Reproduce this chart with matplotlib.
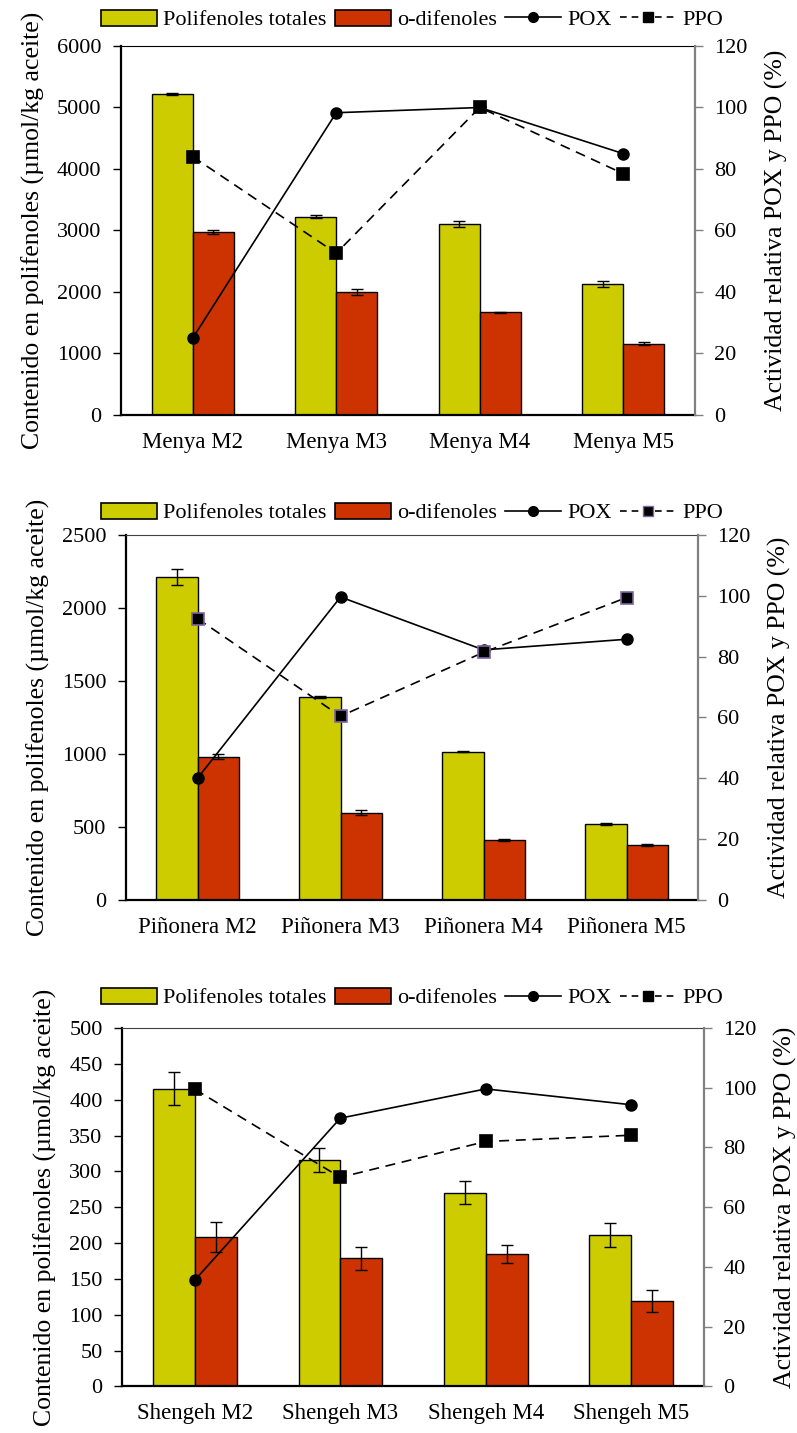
import matplotlib
matplotlib.use("Agg")
import matplotlib.pyplot as plt
import numpy as np
from matplotlib.lines import Line2D
from matplotlib.patches import Patch

plt.rcParams['font.family'] = ['Liberation Serif', 'DejaVu Serif']

# panel 1 - Menya
menya_labels = ["Menya M2", "Menya M3", "Menya M4", "Menya M5"]
menya_total = [5220, 3225, 3110, 2130]
menya_total_err = [10, 20, 50, 50]
menya_odif = [2975, 1995, 1670, 1160]
menya_odif_err = [30, 50, 10, 25]
menya_pox = [25, 98.3, 100, 85]
menya_ppo = [84, 52.6, 100, 78.5]

# panel 2 - Piñonera
pin_labels = ["Piñonera M2", "Piñonera M3", "Piñonera M4", "Piñonera M5"]
pin_total = [2210, 1390, 1015, 520]
pin_total_err = [55, 10, 5, 5]
pin_odif = [982, 598, 410, 377]
pin_odif_err = [16, 15, 4, 5]
pin_pox = [40, 99.6, 82.2, 85.7]
pin_ppo = [92.5, 60.4, 81.4, 99.4]

# panel 3 - Shengeh
sh_labels = ["Shengeh M2", "Shengeh M3", "Shengeh M4", "Shengeh M5"]
sh_total = [415, 316, 270, 211]
sh_total_err = [23, 17, 16, 17]
sh_odif = [208, 179, 185, 119]
sh_odif_err = [21, 16, 13, 15]
sh_pox = [35.6, 89.8, 99.6, 94.3]
sh_ppo = [99.5, 70, 82, 84.1]

YELLOW = "#CCCC00"
RED = "#CC3300"
GREY = "#808080"

fig = plt.figure(figsize=(7.97, 14.33), dpi=100)


def panel(rect, labels, total, total_err, odif, odif_err, pox, ppo,
          ymax, ystep, legend_y, ppo_edge="black", top_color="black"):
    ax = fig.add_axes(rect)
    x = np.arange(len(labels))
    w = 0.287
    ax.bar(x - w / 2, total, w, color=YELLOW, edgecolor="black", linewidth=1,
           yerr=total_err, capsize=4, error_kw=dict(elinewidth=1, capthick=1, ecolor="black"))
    ax.bar(x + w / 2, odif, w, color=RED, edgecolor="black", linewidth=1,
           yerr=odif_err, capsize=4, error_kw=dict(elinewidth=1, capthick=1, ecolor="black"))
    ax.set_xlim(-0.5, len(labels) - 0.5)
    ax.set_ylim(0, ymax)
    ax.set_yticks(np.arange(0, ymax + 1, ystep))
    ax.set_xticks(x)
    ax.set_xticklabels(labels, fontsize=16.5)
    ax.tick_params(axis="x", length=0, pad=12)
    ax.tick_params(axis="y", direction="out", length=6, width=1, labelsize=16, pad=8)
    ax.spines["left"].set_linewidth(1.6)
    ax.spines["bottom"].set_linewidth(1.6)
    ax.spines["right"].set_visible(False)
    ax.spines["top"].set_color(top_color)
    ax.set_ylabel("Contenido en polifenoles (µmol/kg aceite)", fontsize=18.5, labelpad=9)

    ax2 = ax.twinx()
    ax2.plot(x, pox, color="black", lw=1.2, marker="o", markersize=8)
    ax2.plot(x, ppo, color="black", lw=1.2, ls=(0, (6, 4)), marker="s", markersize=8,
             markerfacecolor="black", markeredgecolor=ppo_edge, markeredgewidth=1.2)
    ax2.set_ylim(0, 120)
    ax2.set_yticks(np.arange(0, 121, 20))
    ax2.tick_params(axis="y", direction="out", length=6, width=1, color=GREY,
                    labelsize=16, pad=8)
    ax2.spines["right"].set_color(GREY)
    ax2.spines["right"].set_linewidth(1.6)
    for s in ["left", "top", "bottom"]:
        ax2.spines[s].set_visible(False)
    ax2.set_ylabel("Actividad relativa POX y PPO (%)", fontsize=18.5, labelpad=12)

    handles = [
        Patch(facecolor=YELLOW, edgecolor="black", linewidth=1.2),
        Patch(facecolor=RED, edgecolor="black", linewidth=1.2),
        Line2D([], [], color="black", lw=1.2, marker="o", markersize=7),
        Line2D([], [], color="black", lw=1.2, ls=(0, (4, 3)), marker="s", markersize=7,
               markerfacecolor="black", markeredgecolor=ppo_edge),
    ]
    fig.legend(handles, ["Polifenoles totales", "o-difenoles", "POX", "PPO"],
               loc="center", bbox_to_anchor=(0.517, legend_y), ncol=4, frameon=False,
               fontsize=16, handlelength=2.5, handleheight=0.72, handletextpad=0.27,
               columnspacing=0.4, borderpad=0.2)


panel([0.1518, 0.7104, 0.7202, 0.2575], menya_labels, menya_total, menya_total_err,
      menya_odif, menya_odif_err, menya_pox, menya_ppo, 6000, 1000, 1 - 20 / 1433)
panel([0.1581, 0.3720, 0.7177, 0.2547], pin_labels, pin_total, pin_total_err,
      pin_odif, pin_odif_err, pin_pox, pin_ppo, 2500, 500, 1 - 513 / 1433,
      ppo_edge="#8064A2", top_color="#404040")
panel([0.1531, 0.03245, 0.7302, 0.2502], sh_labels, sh_total, sh_total_err,
      sh_odif, sh_odif_err, sh_pox, sh_ppo, 500, 50, 1 - 998 / 1433,
      top_color="#404040")

fig.savefig("out.png", dpi=100)
